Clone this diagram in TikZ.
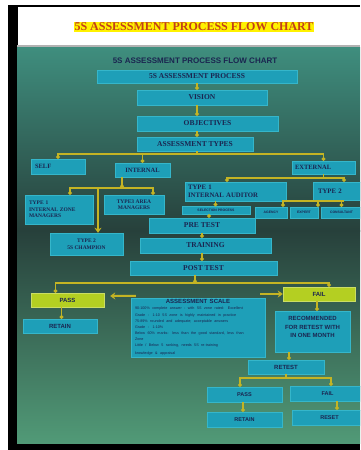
\documentclass[tikz,border=0pt]{standalone}
\usepackage{fontspec}
\setmainfont{Liberation Serif}
\setsansfont{Liberation Sans}
\usetikzlibrary{arrows.meta,positioning}

\definecolor{boxcyan}{HTML}{1E9FB8}
\definecolor{boxedge}{HTML}{35B6CA}
\definecolor{inknavy}{HTML}{1B2550}
\definecolor{linkgold}{HTML}{C4B424}
\definecolor{limefill}{HTML}{B4CF22}
\definecolor{bgtop}{HTML}{3F8E7E}
\definecolor{bgmid}{HTML}{27403B}
\definecolor{bgbot}{HTML}{519A77}
\definecolor{titlered}{HTML}{C2401A}
\definecolor{titlehl}{HTML}{FFF200}

\begin{document}
\begin{tikzpicture}[x=1pt,y=-1pt]
\tikzset{
  flowbox/.style={rectangle,draw=boxedge,fill=boxcyan,line width=0.4pt,inner sep=1pt,text=inknavy,font=\bfseries\fontsize{7.5}{8}\selectfont},
  smallbox/.style={flowbox,font=\bfseries\fontsize{5.5}{6.5}\selectfont},
  tinybox/.style={flowbox,font=\bfseries\sffamily\fontsize{3.4}{4}\selectfont},
  sansbox/.style={flowbox,font=\bfseries\sffamily\fontsize{6}{8.5}\selectfont},
  limebox/.style={sansbox,fill=limefill,draw=limefill!70!white},
  flowlink/.style={draw=linkgold,line width=1.4pt,-{Circle[length=3.6pt]}},
  bigarrow/.style={draw=linkgold,line width=2pt,-{Stealth[length=5pt,width=7pt]}}
}
\useasboundingbox (0,0) rectangle (360,450);
\clip (0,0) rectangle (360,450);
% frame and backdrop
\fill[white] (0,0) rectangle (360,450);
\fill[black] (8,5) rectangle (360,7);
\fill[black] (8,5) rectangle (18,450);
\fill[black] (8,443) rectangle (360,450);
\shade[top color=bgtop,bottom color=bgmid] (17,47) rectangle (360,231);
\shade[top color=bgmid,bottom color=bgbot] (17,230) rectangle (360,443);
\draw[gray!60,line width=1.5pt] (17,46) -- (360,46);

\node[fill=titlehl,text=titlered,inner sep=1pt,font=\bfseries\fontsize{12}{13}\selectfont] (n_title) at (194,27) {5S ASSESSMENT PROCESS FLOW CHART};
\node[text=inknavy,inner sep=0pt,font=\bfseries\sffamily\fontsize{8}{9}\selectfont] (n_subtitle) at (195,61) {5S ASSESSMENT PROCESS FLOW CHART};

% main column
\node[flowbox,minimum width=200pt,minimum height=13pt] (n_process) at (197,76.5) {5S ASSESSMENT PROCESS};
\node[flowbox,minimum width=130pt,minimum height=15pt] (n_vision) at (202,97.5) {VISION};
\node[flowbox,minimum width=141pt,minimum height=15pt] (n_objectives) at (207.5,123.5) {OBJECTIVES};
\node[flowbox,minimum width=116pt,minimum height=14pt] (n_types) at (195,144) {ASSESSMENT TYPES};

% assessment types
\node[flowbox,font=\bfseries\fontsize{6.5}{7}\selectfont,inner xsep=4pt,text width=46pt,align=left,minimum height=15pt] (n_self) at (58,166.5) {SELF};
\node[flowbox,font=\bfseries\fontsize{6.5}{7}\selectfont,minimum width=55pt,minimum height=14pt] (n_internal) at (142.5,170) {INTERNAL};
\node[flowbox,font=\bfseries\fontsize{6.5}{7}\selectfont,inner xsep=3pt,text width=57pt,align=left,minimum height=13pt] (n_external) at (323.5,167.5) {EXTERNAL};

% internal
\node[smallbox,inner xsep=4pt,text width=60pt,align=left,minimum height=29pt] (n_zoneman) at (59,209.5) {TYPE 1\\INTERNAL ZONE\\MANAGERS};
\node[smallbox,align=center,minimum width=60pt,minimum height=19pt] (n_areaman) at (134,204.5) {TYPE3 AREA\\MANAGERS};
\node[smallbox,align=center,minimum width=73pt,minimum height=22pt] (n_champion) at (86.5,244) {TYPE 2\\5S CHAMPION};

% external
\node[flowbox,font=\bfseries\fontsize{6.8}{7.5}\selectfont,inner xsep=3pt,text width=95pt,align=left,minimum height=19pt] (n_auditor) at (235.5,191.5) {TYPE 1\\INTERNAL AUDITOR};
\node[flowbox,font=\bfseries\fontsize{6.8}{7.5}\selectfont,inner xsep=5pt,text width=52pt,align=left,minimum height=18pt] (n_typetwo) at (344,191) {TYPE 2};
\node[tinybox,minimum width=68pt,minimum height=8pt] (n_selection) at (216,210.5) {SELECTION PROCESS};
\node[tinybox,minimum width=32pt,minimum height=11pt] (n_agency) at (271,212.5) {AGENCY};
\node[tinybox,minimum width=28pt,minimum height=11pt] (n_expert) at (304,212.5) {EXPERT};
\node[tinybox,minimum width=41pt,minimum height=11pt] (n_consultant) at (341.5,212.5) {CONSULTANT};

% tests
\node[flowbox,minimum width=106pt,minimum height=15pt] (n_pretest) at (202,225.5) {PRE TEST};
\node[flowbox,minimum width=131pt,minimum height=15pt] (n_training) at (205.5,245.5) {TRAINING};
\node[flowbox,minimum width=147pt,minimum height=14pt] (n_posttest) at (203.5,268) {POST TEST};

% results
\node[limebox,minimum width=73pt,minimum height=14pt] (n_pass) at (67.5,300) {PASS};
\node[limebox,minimum width=72pt,minimum height=14pt] (n_fail) at (319,294) {FAIL};
\node[sansbox,minimum width=74pt,minimum height=14pt] (n_retain) at (60,326) {RETAIN};
\node[flowbox,inner xsep=4pt,text width=126pt,minimum height=59pt] (n_scale) at (198,327.5) {{\centering\sffamily\bfseries\fontsize{6}{8}\selectfont ASSESSMENT SCALE\par}\raggedright\sffamily\mdseries\fontsize{3.7}{6.1}\selectfont
90-100\% complete answer - with 5S zone rated: Excellent\\
Grade : 1-10 5S zone is highly maintained in practice\\
75-89\% rounded and adequate; acceptable answers\\
Grade : 1-10\%\\
Below 60\% marks: less than the good standard, less than\\
Zone\\
Little / Below 5 ranking, needs 5S re-training\\
knowledge \& appraisal};
\node[sansbox,align=center,minimum width=75pt,minimum height=41pt] (n_recommend) at (312.5,331.5) {RECOMMENDED\\FOR RETEST WITH\\IN ONE MONTH\\~};
\node[sansbox,minimum width=76pt,minimum height=14pt] (n_retest) at (286,367) {RETEST};
\node[sansbox,font=\bfseries\sffamily\fontsize{5.5}{6}\selectfont,minimum width=75pt,minimum height=15pt] (n_passtwo) at (244.5,394.5) {PASS};
\node[sansbox,font=\bfseries\sffamily\fontsize{5.5}{6}\selectfont,minimum width=75pt,minimum height=15pt] (n_failtwo) at (327.5,393.5) {FAIL};
\node[sansbox,font=\bfseries\sffamily\fontsize{5.5}{6}\selectfont,minimum width=75pt,minimum height=15pt] (n_retaintwo) at (244.5,419.5) {RETAIN};
\node[sansbox,font=\bfseries\sffamily\fontsize{5.5}{6}\selectfont,minimum width=75pt,minimum height=15pt] (n_reset) at (329.5,417.5) {RESET};

% junctions
\coordinate (j_types) at (197,154);
\coordinate (j_internal) at (122,188);
\coordinate (j_external) at (323.5,178);
\coordinate (j_typetwo) at (344,201);
\coordinate (j_result) at (195,283);
\coordinate (j_retest) at (286,378);

% links
\draw[flowlink] (n_process.south) -- (n_process.south |- n_vision.north);
\draw[flowlink] (n_process.south |- n_vision.south) -- (n_process.south |- n_objectives.north);
\draw[flowlink] (n_process.south |- n_objectives.south) -- (n_process.south |- n_types.north);
\draw[flowlink,-] (n_types.south -| j_types) -- (j_types);
\draw[flowlink] (j_types) -| (n_self);
\draw[flowlink] (j_types) -| (n_internal);
\draw[flowlink] (j_types) -| (n_external);
\draw[flowlink] (n_internal.south -| j_internal) -- (j_internal);
\draw[flowlink] (j_internal) -| ([xshift=11pt]n_zoneman.north);
\draw[flowlink] (j_internal) -| ([xshift=19pt]n_areaman.north);
\draw[bigarrow] ([xshift=11.5pt]n_champion.north |- j_internal) -- ([xshift=11.5pt]n_champion.north);
\draw[flowlink,-] (n_external.south) -- (j_external);
\draw[flowlink] (j_external) -| ([xshift=-8.5pt]n_auditor.north);
\draw[flowlink] (j_external) -| (n_typetwo.north);
\draw[flowlink] ([xshift=-20pt]n_auditor.south) -- ([xshift=-20pt]n_auditor.south |- n_selection.north);
\draw[flowlink] (j_typetwo) -| ([xshift=12pt]n_agency.north);
\draw[flowlink] (j_typetwo) -| ([xshift=14pt]n_expert.north);
\draw[flowlink] (j_typetwo) -| (n_consultant.north);
\draw[flowlink] ([xshift=-7pt]n_selection.south) -- ([xshift=-7pt]n_selection.south |- n_pretest.north);
\draw[flowlink] (n_pretest.south) -- (n_pretest.south |- n_training.north);
\draw[flowlink] (n_pretest.south |- n_training.south) -- (n_pretest.south |- n_posttest.north);
\draw[flowlink] (n_posttest.south -| j_result) -- (j_result);
\draw[flowlink] (j_result) -| ([xshift=-12pt]n_pass.north);
\draw[flowlink] (j_result) -| ([xshift=10pt]n_fail.north);
\draw[bigarrow] ([shift={(5,-2)}]n_scale.north west) -- ([shift={(6,-4)}]n_pass.east);
\draw[bigarrow] ([xshift=-5pt]n_scale.north east |- n_fail.west) -- (n_fail.west);
\draw[flowlink] ([xshift=-6pt]n_pass.south) -- ([xshift=-6pt]n_pass.south |- n_retain.north);
\draw[flowlink] ([xshift=-2pt]n_fail.south) -- ([xshift=-2pt]n_fail.south |- n_recommend.north);
\draw[flowlink] ([xshift=-23.5pt]n_recommend.south) -- ([xshift=-23.5pt]n_recommend.south |- n_retest.north);
\draw[flowlink,-] (n_retest.south) -- (j_retest);
\draw[flowlink] (j_retest) -| ([xshift=-4.5pt]n_passtwo.north);
\draw[flowlink] (j_retest) -| ([xshift=3.5pt]n_failtwo.north);
\draw[flowlink] ([xshift=-1.5pt]n_passtwo.south) -- ([xshift=-1.5pt]n_passtwo.south |- n_retaintwo.north);
\draw[flowlink] ([xshift=9.5pt]n_failtwo.south) -- ([xshift=9.5pt]n_failtwo.south |- n_reset.north);
\end{tikzpicture}
\end{document}
